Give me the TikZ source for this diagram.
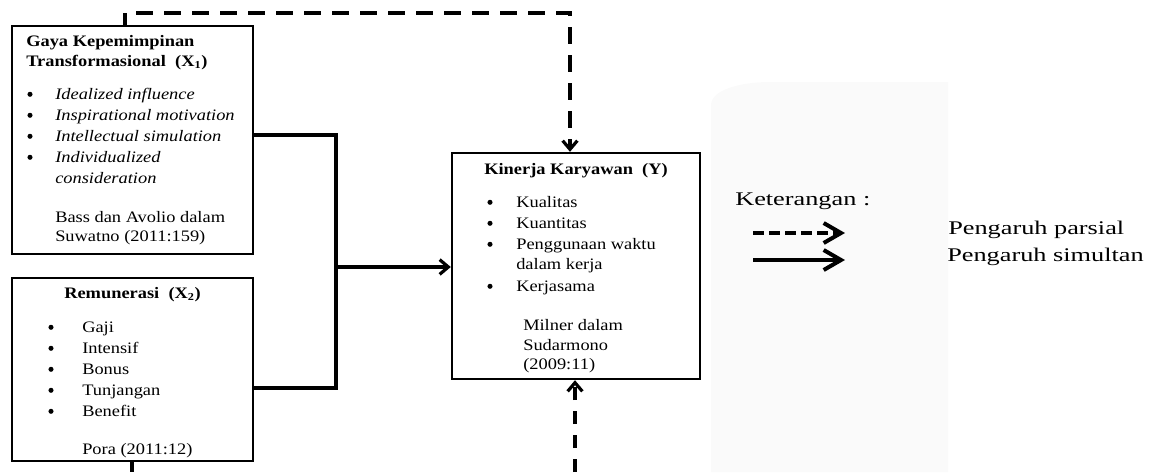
\documentclass[tikz,border=0pt]{standalone}
\usepackage{fontspec}
\setmainfont{Liberation Serif}
\newfontfamily\bxfont{Liberation Serif}[FakeStretch=1.15]
\newfontfamily\lgfont{Liberation Serif}[FakeStretch=1.36]
\usetikzlibrary{arrows.meta}
\definecolor{bgpanel}{RGB}{250,250,250}
\begin{document}
\begin{tikzpicture}[x=0.75pt,y=-0.75pt,
  box/.style={draw=black, line width=1.8pt, rectangle, inner sep=0pt},
  conn/.style={line width=2.4pt, line join=miter},
  tipm/.style={-{Straight Barb[length=6.5pt,width=11pt]}},
  dconn/.style={conn, dash pattern=on 12.75pt off 8.25pt, dash phase=12.75pt},
  dconnv/.style={conn, dash pattern=on 10pt off 8pt},
  txt/.style={anchor=base west, inner sep=0pt, font=\bxfont\fontsize{12}{14}\selectfont},
  dot/.style={fill=black},
  lgtxt/.style={anchor=base west, inner sep=0pt, font=\lgfont\fontsize{14.5}{17}\selectfont},
  lgarrow/.style={line width=3pt, -{Straight Barb[length=13pt,width=15pt]}}
]
\useasboundingbox (0,0) rectangle (1153,472);
% background panel
\fill[bgpanel] (711,472) -- (711,105) .. controls (711,90) and (740,82) .. (770,82) -- (948,82) -- (948,472) -- cycle;

% boxes
\node[box, minimum width=180.75pt, minimum height=171pt] (x1) at (132.5,140) {};
\node[box, minimum width=180.75pt, minimum height=137.25pt] (x2) at (132.5,369.5) {};
\node[box, minimum width=186pt, minimum height=169.5pt] (y) at (576,266) {};

% bullets
\foreach \yy in {99,120,141,162} \fill[dot] (30,\yy-4.7) circle[radius=1.9pt];
\foreach \yy in {332,353,374,395,416} \fill[dot] (51,\yy-4.7) circle[radius=1.9pt];
\foreach \yy in {207,228,249,291} \fill[dot] (490,\yy-4.7) circle[radius=1.9pt];

% X1 text
\node[txt] (x1h1) at (26,46) {\bfseries Gaya Kepemimpinan};
\node[txt] (x1h2) at (26,66) {\bfseries Transformasional\ \ (X\textsubscript{1})};
\node[txt] (x1i1) at (55,99) {\itshape Idealized influence};
\node[txt] (x1i2) at (55,120) {\itshape Inspirational motivation};
\node[txt] (x1i3) at (55,141) {\itshape Intellectual simulation};
\node[txt] (x1i4) at (55,162) {\itshape Individualized};
\node[txt] (x1i5) at (55,183) {\itshape consideration};
\node[txt] (x1s1) at (55,222) {Bass dan Avolio dalam};
\node[txt] (x1s2) at (55,241) {Suwatno (2011:159)};

% X2 text
\node[txt] (x2h) at (64,298) {\bfseries Remunerasi\ \ (X\textsubscript{2})};
\node[txt] (x2i1) at (82,332) {Gaji};
\node[txt] (x2i2) at (82,353) {Intensif};
\node[txt] (x2i3) at (82,374) {Bonus};
\node[txt] (x2i4) at (82,395) {Tunjangan};
\node[txt] (x2i5) at (82,416) {Benefit};
\node[txt] (x2s) at (82,454) {Pora (2011:12)};

% Y text
\node[txt] (yh) at (484,174) {\bfseries Kinerja Karyawan\ \ (Y)};
\node[txt] (yi1) at (516,207) {Kualitas};
\node[txt] (yi2) at (516,228) {Kuantitas};
\node[txt] (yi3) at (516,249) {Penggunaan waktu};
\node[txt] (yi4) at (516,269) {dalam kerja};
\node[txt] (yi5) at (516,291) {Kerjasama};
\node[txt] (ys1) at (523,330) {Milner dalam};
\node[txt] (ys2) at (523,350) {Sudarmono};
\node[txt] (ys3) at (523,369) {(2009:11)};

% connectors
\coordinate (t1) at (125,13);
\coordinate (t2) at (570,13);
\draw[conn] (x1.north -| t1) -- (t1);
\draw[dconn, tipm] (t1) -- (t2) -- (y.north -| t2);

\coordinate (b1) at (132,472);
\draw[conn] (x2.south -| b1) -- (b1);
\coordinate (b2) at (575,472);
\draw[dconnv, tipm] (b2) -- (y.south -| b2);

\coordinate (j1) at (336,135);
\coordinate (j2) at (336,388);
\coordinate (jm) at (336,267);
\draw[conn] (x1.east |- j1) -- (j1) -- (j2) -- (x2.east |- j2);
\draw[conn, tipm] (jm) -- (y.west |- jm);

% legend
\node[lgtxt] (ket) at (735,205) {Keterangan :};
\coordinate (l1s) at (753,233);
\coordinate (l1e) at (845,233);
\coordinate (l2s) at (753,260);
\coordinate (l2e) at (845,260);
\draw[lgarrow, dash pattern=on 8pt off 4pt] (l1s) -- (l1e);
\draw[lgarrow] (l2s) -- (l2e);
\node[lgtxt] (lp) at (948,234) {Pengaruh parsial};
\node[lgtxt] (ls) at (947,261) {Pengaruh simultan};
\end{tikzpicture}
\end{document}
